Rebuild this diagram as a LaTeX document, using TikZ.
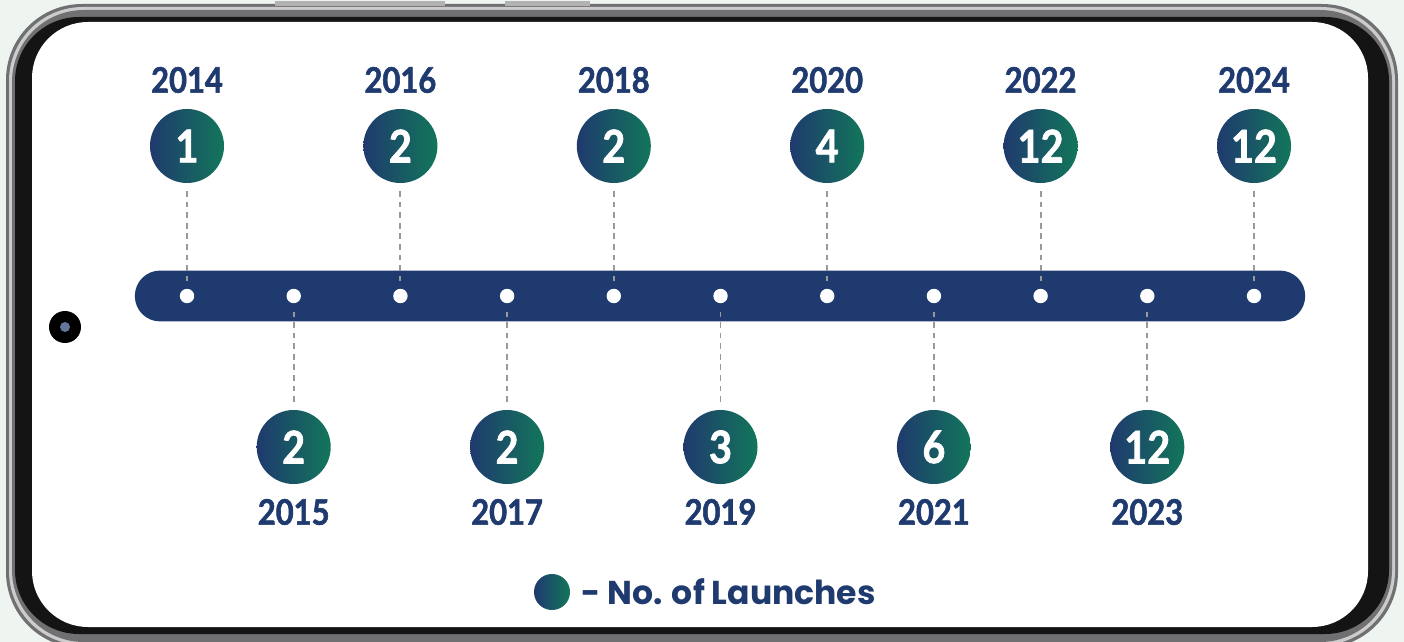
\documentclass[tikz,border=0pt]{standalone}
\usepackage{fontspec}
\setmainfont{Lato}
\newfontfamily\yearfont{Lato}[FakeStretch=0.88, BoldFeatures={FakeBold=1.6}]
\newfontfamily\legendfont{Poppins}
\usetikzlibrary{positioning}
\definecolor{tlblue}{RGB}{31,58,110}
\definecolor{tlgreen}{RGB}{18,118,90}
\definecolor{bgmint}{RGB}{238,244,240}
\definecolor{rim}{RGB}{112,112,115}

\tikzset{
  launch/.style={circle, inner sep=0pt, minimum size=1.85cm, left color=tlblue, right color=tlgreen,
    text=white, font=\yearfont\bfseries\fontsize{32}{32}\selectfont},
  yearlabel/.style={text=tlblue, font=\yearfont\bfseries\fontsize{25}{25}\selectfont},
  tickdot/.style={circle, fill=white, inner sep=0pt, minimum size=0.36cm},
  stem/.style={gray!80, line width=1.4pt, dash pattern=on 4pt off 3.5pt, shorten <=0.2cm, shorten >=0.12cm}
}

\begin{document}
\begin{tikzpicture}[x=0.025cm, y=-0.025cm]
\useasboundingbox (0,0) rectangle (1404,642);
\fill[bgmint] (0,0) rectangle (1404,642);

% phone body
\fill[rim, rounded corners=1.9cm] (6,4) rectangle (1398,648);
\fill[gray!40, rounded corners=1.85cm] (9,7) rectangle (1395,645);
\fill[rim, rounded corners=1.8cm] (12,10) rectangle (1392,642);
\fill[black!92, rounded corners=1.6cm] (15,17) rectangle (1389,634);
\fill[white, rounded corners=1.4cm] (32,22) rectangle (1368,627);
\fill[gray!60] (275,1) rectangle (445,6);
\fill[gray!60] (505,1) rectangle (590,6);
\fill[black] (65,327) circle (16);
\fill[tlblue!70] (65,327) circle (5);

% timeline bar
\node[fill=tlblue, rounded corners=0.63cm, minimum width=29.25cm, minimum height=1.27cm, inner sep=0pt] (bar) at (720,296) {};

\foreach \yr/\num [count=\i from 0] in {2014/1,2015/2,2016/2,2017/2,2018/2,2019/3,2020/4,2021/6,2022/12,2023/12,2024/12} {
  \pgfmathsetmacro{\x}{187+\i*106.7}
  \node[tickdot] (d\i) at (\x,296) {};
  \ifodd\i
    \node[launch] (c\i) at (\x,447) {\num};
    \node[yearlabel] (y\i) at (\x,512) {\yr};
  \else
    \node[launch] (c\i) at (\x,146) {\num};
    \node[yearlabel] (y\i) at (\x,80) {\yr};
  \fi
  \draw[stem] (c\i) -- (d\i);
}

% legend
\node[circle, inner sep=0pt, minimum size=0.9cm, left color=tlblue, right color=tlgreen] (key) at (552,592) {};
\node[right=0.15cm of key, text=tlblue, font=\legendfont\bfseries\fontsize{23.5}{23.5}\selectfont] (keytext) {- No. of Launches};
\end{tikzpicture}
\end{document}
